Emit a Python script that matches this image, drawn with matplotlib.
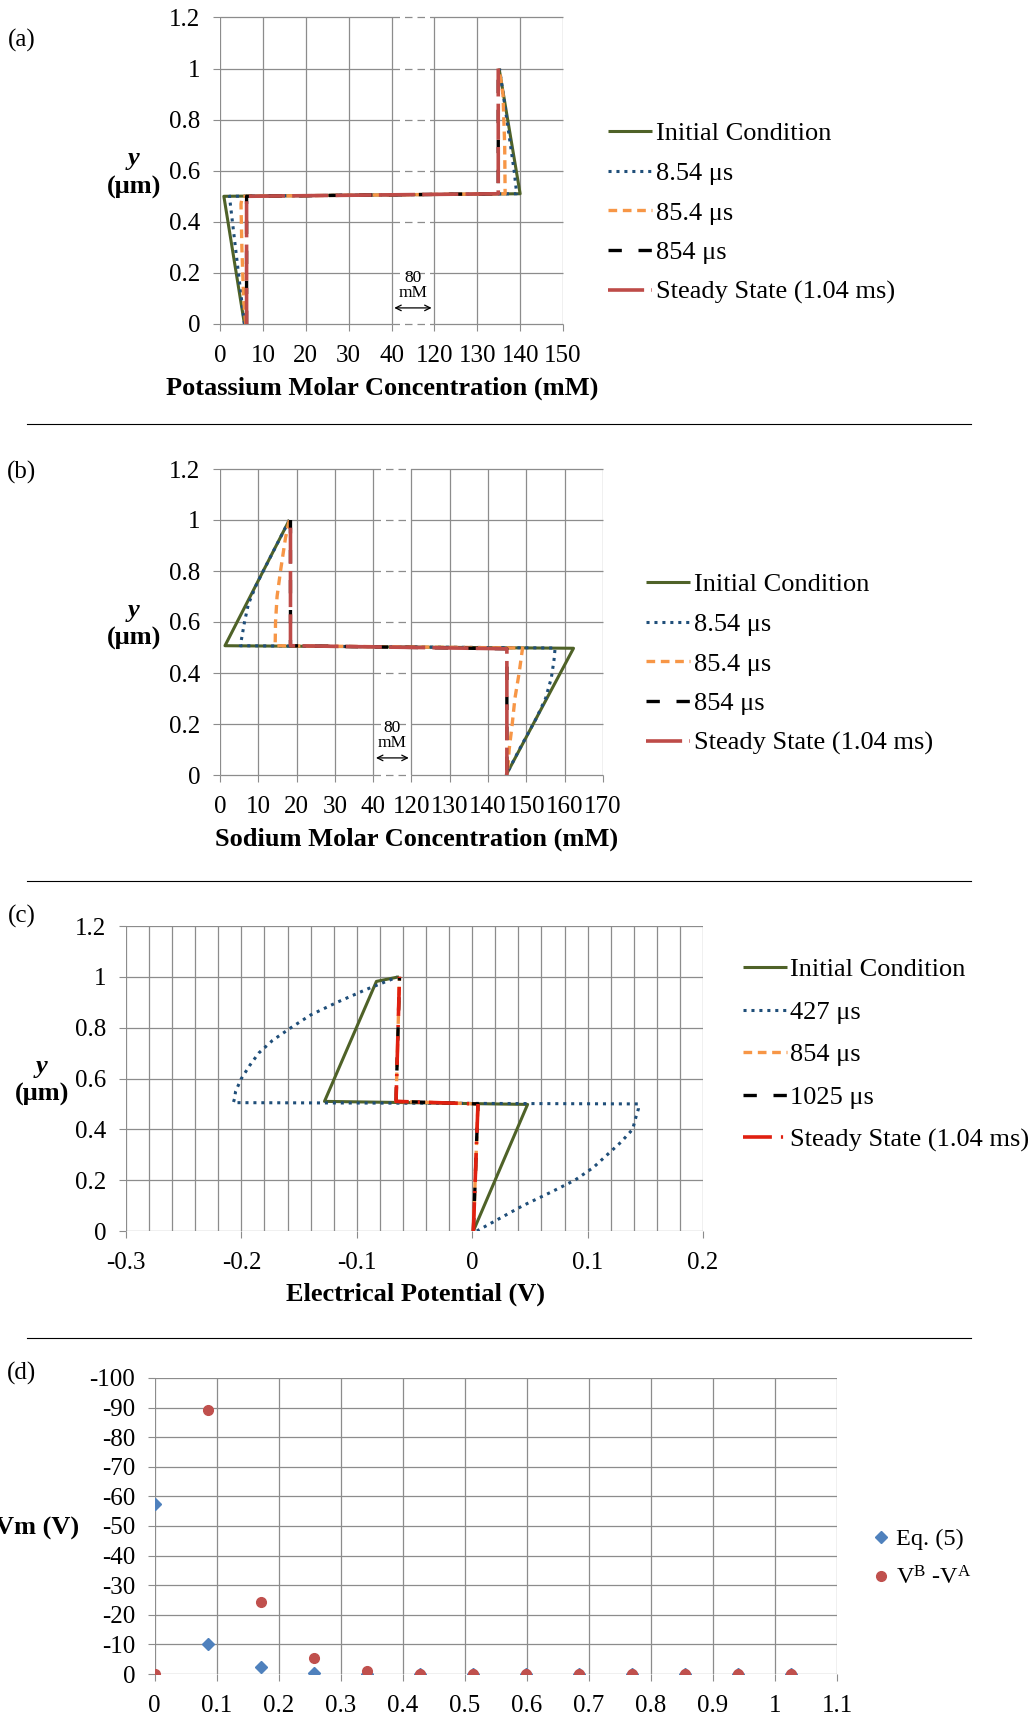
"""Four-panel figure: K+ / Na+ concentration profiles, potential profile, Vm."""

import numpy as np
import matplotlib.pyplot as plt
from matplotlib.lines import Line2D

W, H = 1032, 1717

plt.rcParams["font.family"] = ["Liberation Serif", "DejaVu Serif"]
plt.rcParams["mathtext.fontset"] = "custom"
plt.rcParams["mathtext.rm"] = "Liberation Serif"
plt.rcParams["mathtext.it"] = "Liberation Serif:italic"

# ---- (a) potassium, x in mM, y in um
k_init_x = [5.7, 0.9, 140.0, 135.1]
k_init_y = [0.0, 0.50, 0.51, 1.0]
k_t1_x = [5.7, 2.2, 139.2, 138.6, 135.2]
k_t1_y = [0.0, 0.50, 0.51, 0.60, 1.0]
k_t2_x = [6.0, 5.5, 5.1, 4.9, 5.2, 136.5, 136.4, 136.0, 135.1]
k_t2_y = [0.0, 0.10, 0.30, 0.47, 0.50, 0.51, 0.70, 0.90, 1.0]
k_t3_x = [6.2, 6.2, 134.9, 134.9]
k_t3_y = [0.0, 0.50, 0.51, 1.0]
k_ss_x = [6.2, 6.2, 134.9, 134.9]
k_ss_y = [0.0, 0.50, 0.51, 1.0]
k_labels = ["Initial Condition", "8.54 μs", "85.4 μs", "854 μs", "Steady State (1.04 ms)"]

# ---- (b) sodium
na_init_x = [18.1, 1.3, 162.3, 144.7]
na_init_y = [1.0, 0.507, 0.497, 0.0]
na_t1_x = [18.1, 13.0, 9.6, 7.4, 6.4, 5.7, 5.3, 157.5, 157.2, 156.5, 155.0, 152.5, 148.5, 144.7]
na_t1_y = [1.0, 0.85, 0.75, 0.67, 0.60, 0.54, 0.507, 0.498, 0.45, 0.38, 0.30, 0.22, 0.11, 0.0]
na_t2_x = [18.1, 17.1, 15.8, 14.9, 14.5, 14.4, 149.0, 148.1, 147.0, 146.3, 145.5, 145.0]
na_t2_y = [1.0, 0.93, 0.80, 0.70, 0.60, 0.507, 0.498, 0.40, 0.30, 0.20, 0.10, 0.0]
na_t3_x = [18.4, 18.4, 144.9, 144.9]
na_t3_y = [1.0, 0.507, 0.495, 0.0]
na_ss_x = [18.4, 18.4, 144.9, 144.9]
na_ss_y = [0.97, 0.507, 0.495, 0.0]

# ---- (c) electrical potential, x in V
v_init_x = [0.001, 0.048, -0.128, -0.083, -0.0635]
v_init_y = [0.0, 0.498, 0.51, 0.982, 1.0]
v_t1_x = [0.004, 0.024, 0.044, 0.067, 0.089, 0.105, 0.117, 0.129, 0.139, 0.142, 0.144, 0.144,
          -0.207, -0.206, -0.205, -0.200, -0.193, -0.185, -0.173, -0.157, -0.140, -0.117,
          -0.092, -0.070, -0.065]
v_t1_y = [0.0, 0.05, 0.10, 0.15, 0.20, 0.25, 0.30, 0.35, 0.40, 0.45, 0.48, 0.50,
          0.505, 0.52, 0.55, 0.60, 0.65, 0.70, 0.75, 0.80, 0.85, 0.90, 0.95, 0.99, 1.0]
v_t2_x = [0.001, 0.005, -0.066, -0.063]
v_t2_y = [0.0, 0.50, 0.51, 1.0]
v_t3_x = [0.001, 0.005, -0.066, -0.063]
v_t3_y = [0.0, 0.50, 0.51, 1.0]
v_ss_x = [0.001, 0.005, -0.066, -0.063]
v_ss_y = [0.0, 0.50, 0.51, 1.0]
v_labels = ["Initial Condition", "427 μs", "854 μs", "1025 μs", "Steady State (1.04 ms)"]

# ---- (d) membrane potential
vm_x = [0.0, 0.0855, 0.171, 0.2565, 0.342, 0.4275, 0.513, 0.5985, 0.684, 0.7695, 0.855, 0.9405, 1.026]
vm_eq5 = [-57.5, -10.1, -2.2, -0.4, 0.0, 0, 0, 0, 0, 0, 0, 0, 0]
vm_diff = [0.0, -89.3, -24.3, -5.5, -1.1, 0, 0, 0, 0, 0, 0, 0, 0]

k_xticks = [0, 10, 20, 30, 40, 120, 130, 140, 150]
na_xticks = [0, 10, 20, 30, 40, 120, 130, 140, 150, 160, 170]
y_ticks = [0, 0.2, 0.4, 0.6, 0.8, 1.0, 1.2]
y_ticklabels = ["0", "0.2", "0.4", "0.6", "0.8", "1", "1.2"]
v_ticks = [-0.3, -0.2, -0.1, 0.0, 0.1, 0.2]
v_ticklabels = ["-0.3", "-0.2", "-0.1", "0", "0.1", "0.2"]
d_xticks = [0, 0.1, 0.2, 0.3, 0.4, 0.5, 0.6, 0.7, 0.8, 0.9, 1.0, 1.1]
d_xticklabels = ["0", "0.1", "0.2", "0.3", "0.4", "0.5", "0.6", "0.7", "0.8", "0.9", "1", "1.1"]
d_yticks = [0, -10, -20, -30, -40, -50, -60, -70, -80, -90, -100]

GRID = "#8c8c8c"
GREEN = "#4F6228"
BLUE = "#1F4E79"
ORANGE = "#F79646"
RED_A = "#BE4B48"
RED_C = "#E02010"
TICK_FS = 18
LEG_FS = 19


def fwd(x):
    x = np.asarray(x, float)
    return np.where(x <= 40, x / 10, np.where(x >= 120, 5 + (x - 120) / 10, 4 + (x - 40) / 80))


def inv(u):
    u = np.asarray(u, float)
    return np.where(u <= 4, u * 10, np.where(u >= 5, 120 + (u - 5) * 10, 40 + (u - 4) * 80))


def box(left, top, right, bottom):
    return [left / W, 1 - bottom / H, (right - left) / W, (bottom - top) / H]


def ftext(px, py, s, **kw):
    fig.text(px / W, 1 - py / H, s, **kw)


def style_axes(ax):
    for sp in ax.spines.values():
        sp.set_visible(False)
    ax.tick_params(length=5, width=0.8, color=GRID, labelsize=TICK_FS)
    ax.tick_params(axis="y", pad=9)
    ax.tick_params(axis="x", pad=10)
    ax.set_axisbelow(True)


def broken_axis(ax, xticks, xmax):
    ax.set_xscale("function", functions=(fwd, inv))
    ax.set_xlim(0, xmax)
    ax.set_ylim(0, 1.2)
    ax.set_xticks(xticks)
    ax.set_xticklabels([str(t) for t in xticks])
    ax.set_yticks(y_ticks)
    ax.set_yticklabels(y_ticklabels)
    ax.grid(axis="x", color=GRID, lw=0.9)
    ax.hlines(y_ticks, 0, 40, color=GRID, lw=0.9, zorder=0.5, clip_on=False)
    ax.hlines(y_ticks, 120, xmax, color=GRID, lw=0.9, zorder=0.5, clip_on=False)
    ax.hlines(y_ticks, 40, 120, color=GRID, lw=0.9, zorder=0.5,
              linestyles=(0, (6, 4)), clip_on=False)
    style_axes(ax)


def series(ax, xs, ys, red, labels):
    styles = [
        dict(color=GREEN, lw=2.2, ls="-"),
        dict(color=BLUE, lw=2.2, ls=(0, (1, 1.6))),
        dict(color=ORANGE, lw=2.4, ls=(0, (2.6, 1.7))),
        dict(color="black", lw=2.4, ls=(0, (4, 5))),
        dict(color=red, lw=2.6, ls=(0, (10, 2))),
    ]
    for (x, y), st, lab in zip(zip(xs, ys), styles, labels):
        ax.plot(x, y, label=lab, solid_capstyle="butt", **st)


def legend_at(ax, px, py, fs=LEG_FS, **kw):
    ax.legend(loc="upper left", bbox_to_anchor=(px / W, 1 - py / H),
              bbox_transform=fig.transFigure, frameon=False, borderpad=0,
              borderaxespad=0, fontsize=fs, **kw)


fig = plt.figure(figsize=(W / 100, H / 100), dpi=100)

# (a)
ax_a = fig.add_axes(box(220, 17.5, 563, 324))
broken_axis(ax_a, k_xticks, 150)
series(ax_a, [k_init_x, k_t1_x, k_t2_x, k_t3_x, k_ss_x],
       [k_init_y, k_t1_y, k_t2_y, k_t3_y, k_ss_y], RED_A, k_labels)
ax_a.annotate("", xy=(40, 0.063), xytext=(120, 0.063),
              arrowprops=dict(arrowstyle="<->", lw=0.9, color="black"))
ax_a.text(80, 0.152, "80\nmM", ha="center", va="center", fontsize=12.5, linespacing=0.9)
legend_at(ax_a, 608, 122, handlelength=1.65, handletextpad=0.15, labelspacing=0.61)

# (b)
ax_b = fig.add_axes(box(220, 469, 603, 775))
broken_axis(ax_b, na_xticks, 170)
series(ax_b, [na_init_x, na_t1_x, na_t2_x, na_t3_x, na_ss_x],
       [na_init_y, na_t1_y, na_t2_y, na_t3_y, na_ss_y], RED_A, k_labels)
ax_b.annotate("", xy=(40, 0.067), xytext=(120, 0.067),
              arrowprops=dict(arrowstyle="<->", lw=0.9, color="black"))
ax_b.text(80, 0.155, "80\nmM", ha="center", va="center", fontsize=12.5, linespacing=0.9)
legend_at(ax_b, 646, 573, handlelength=1.65, handletextpad=0.15, labelspacing=0.61)

# (c)
ax_c = fig.add_axes(box(126, 926, 703, 1231))
ax_c.set_xlim(-0.3, 0.2)
ax_c.set_ylim(0, 1.2)
ax_c.set_xticks(v_ticks)
ax_c.set_xticklabels(v_ticklabels)
ax_c.set_xticks(np.arange(-0.3, 0.2001, 0.02), minor=True)
ax_c.set_yticks(y_ticks)
ax_c.set_yticklabels(y_ticklabels)
ax_c.grid(which="both", color=GRID, lw=0.9)
ax_c.tick_params(which="minor", length=0)
style_axes(ax_c)
series(ax_c, [v_init_x, v_t1_x, v_t2_x, v_t3_x, v_ss_x],
       [v_init_y, v_t1_y, v_t2_y, v_t3_y, v_ss_y], RED_C, v_labels)
ax_c.lines[-1].set_linestyle((0, (8, 2.5, 0.6, 2.5)))
legend_at(ax_c, 743, 958, handlelength=1.65, handletextpad=0.15, labelspacing=0.72)

# (d)
ax_d = fig.add_axes(box(154.5, 1378, 837, 1674))
ax_d.set_xlim(0, 1.1)
ax_d.set_ylim(0, -100)
ax_d.set_xticks(d_xticks)
ax_d.set_xticklabels(d_xticklabels)
ax_d.set_yticks(d_yticks)
ax_d.set_yticklabels([str(t) for t in d_yticks])
ax_d.grid(color=GRID, lw=0.9)
style_axes(ax_d)
ax_d.plot(vm_x, vm_eq5, ls="none", marker="D", ms=6, color="#4F81BD", label="Eq. (5)")
ax_d.plot(vm_x, vm_diff, ls="none", marker="o", ms=7, color="#C0504D",
          label=r"V$^{\mathrm{B}}$ -V$^{\mathrm{A}}$")
legend_at(ax_d, 874, 1528, fs=17.5, handlelength=0.6, handletextpad=0.3, labelspacing=0.65)

# panel labels, axis titles
for lab, py in [("(a)", 40), ("(b)", 472), ("(c)", 916), ("(d)", 1373)]:
    ftext(22, py, lab, fontsize=18, ha="center", va="center")
for py in [159, 610]:
    ftext(134, py, "y", fontsize=19, fontweight="bold", style="italic", ha="center", va="center")
    ftext(134, py + 28, "(μm)", fontsize=19, fontweight="bold", ha="center", va="center")
ftext(42, 1066, "y", fontsize=19, fontweight="bold", style="italic", ha="center", va="center")
ftext(42, 1094, "(μm)", fontsize=19, fontweight="bold", ha="center", va="center")
ftext(79, 1528, "Vm (V)", fontsize=19, fontweight="bold", ha="right", va="center")
ftext(382, 388, "Potassium Molar Concentration (mM)", fontsize=19, fontweight="bold",
      ha="center", va="center")
ftext(417, 839, "Sodium Molar Concentration (mM)", fontsize=19, fontweight="bold",
      ha="center", va="center")
ftext(415, 1294, "Electrical Potential (V)", fontsize=19, fontweight="bold",
      ha="center", va="center")

for py in [424, 881, 1338]:
    fig.add_artist(Line2D([27 / W, 971 / W], [1 - py / H] * 2, color="black", lw=0.8))

fig.savefig("out.png", dpi=100)
